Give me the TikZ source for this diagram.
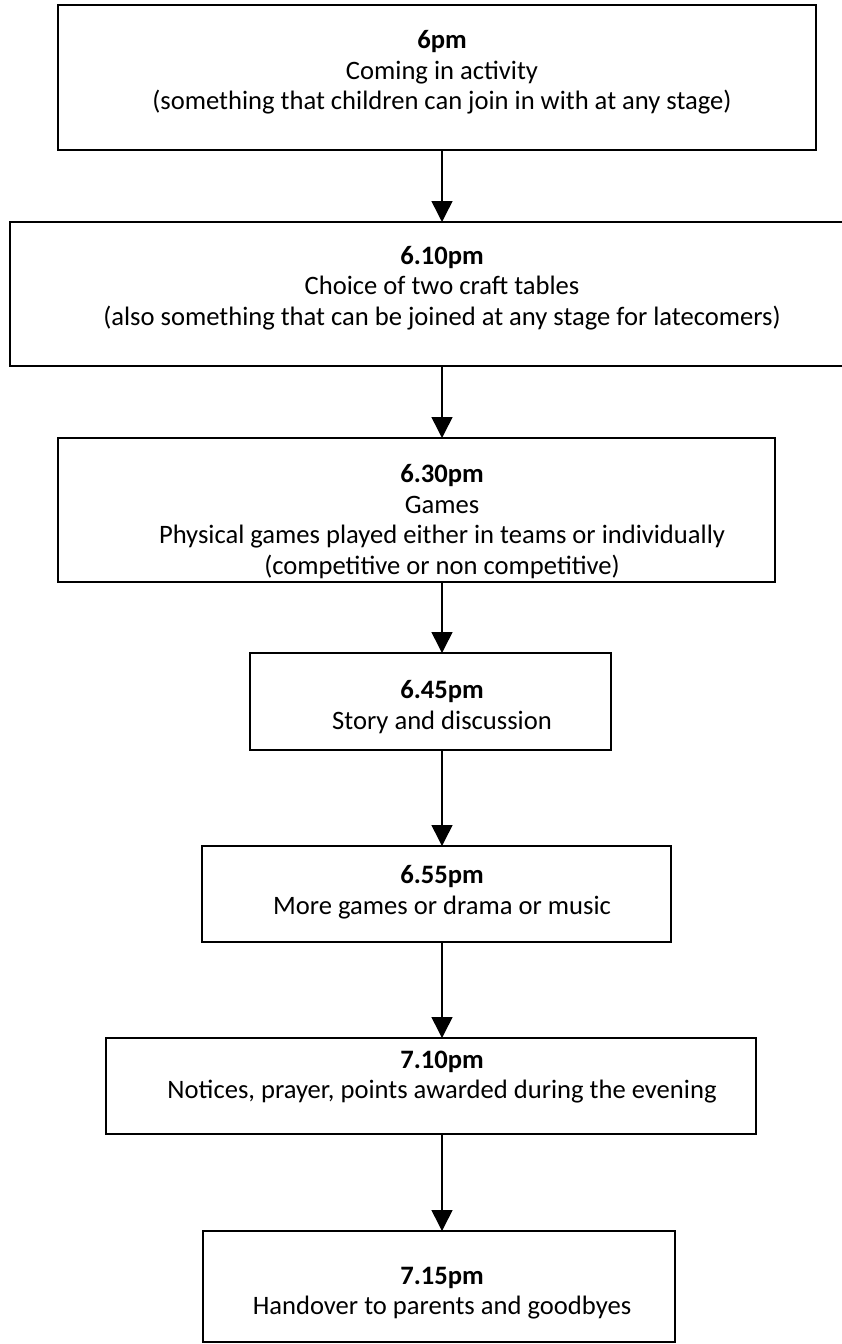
\documentclass[tikz,border=0pt]{standalone}
\usepackage{fontspec}
\setmainfont{Carlito}
\usetikzlibrary{positioning,arrows.meta}

\begin{document}
\begin{tikzpicture}[
        x=0.5pt, y=-0.5pt,
        font=\fontsize{13.3}{15.2}\selectfont,
        >={Triangle[length=10.5pt, width=10.5pt]},
        box/.style={
            draw=black,
            line width=0.9pt,
            inner sep=0pt,
            outer sep=0pt
        },
        slot/.style={
            align=center,
            inner sep=0pt
        },
        arrow/.style={
            ->,
            line width=0.75pt
        }
    ]

    \useasboundingbox (0,0) rectangle (841,1344);

    % Kaesten
    \node[box, minimum width=379pt, minimum height=72.5pt] (b1) at (437,77.5) {};
    \node[box, minimum width=417.5pt, minimum height=72pt] (b2) at (427.5,294) {};
    \node[box, minimum width=358.5pt, minimum height=72pt] (b3) at (416.5,510) {};
    \node[box, minimum width=180.5pt, minimum height=48.5pt] (b4) at (430.5,701.5) {};
    \node[box, minimum width=234.5pt, minimum height=48pt] (b5) at (436.5,894) {};
    \node[box, minimum width=325pt, minimum height=48pt] (b6) at (431,1086) {};
    \node[box, minimum width=236pt, minimum height=55.5pt] (b7) at (439,1286.5) {};

    % Texte
    \node[slot] (t1) at (442,72.5) {
        \textbf{6pm}\\
        Coming in activity\\
        (something that children can join in with at any stage)
    };
    \node[slot] (t2) at (442,288) {
        \textbf{6.10pm}\\
        Choice of two craft tables\\
        (also something that can be joined at any stage for latecomers)
    };
    \node[slot] (t3) at (442,521.5) {
        \textbf{6.30pm}\\
        Games\\
        Physical games played either in teams or individually\\
        (competitive or non competitive)
    };
    \node[slot] (t4) at (442,707) {
        \textbf{6.45pm}\\
        Story and discussion
    };
    \node[slot] (t5) at (442,892) {
        \textbf{6.55pm}\\
        More games or drama or music
    };
    \node[slot] (t6) at (442,1077) {
        \textbf{7.10pm}\\
        Notices, prayer, points awarded during the evening
    };
    \node[slot] (t7) at (442,1293) {
        \textbf{7.15pm}\\
        Handover to parents and goodbyes
    };

    % Pfeile
    \draw[arrow] (t1 |- b1.south) -- (t2 |- b2.north);
    \draw[arrow] (t2 |- b2.south) -- (t3 |- b3.north);
    \draw[arrow] (t3 |- b3.south) -- (t4 |- b4.north);
    \draw[arrow] (t4 |- b4.south) -- (t5 |- b5.north);
    \draw[arrow] (t5 |- b5.south) -- (t6 |- b6.north);
    \draw[arrow] (t6 |- b6.south) -- (t7 |- b7.north);

\end{tikzpicture}
\end{document}
